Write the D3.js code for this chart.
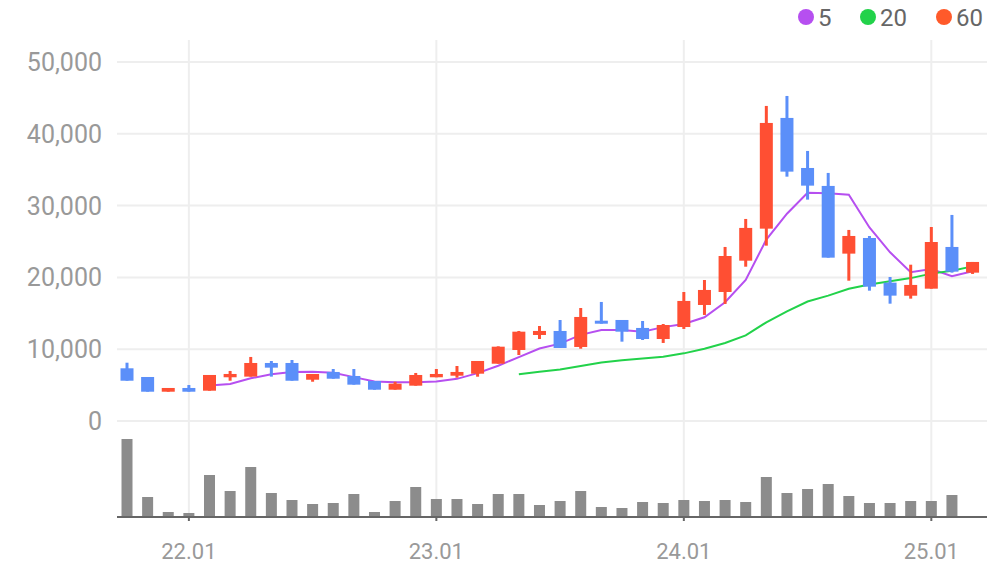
<!DOCTYPE html>
<html><head><meta charset="utf-8">
<script src="https://cdn.jsdelivr.net/npm/d3@7"></script>
<style>body{margin:0;background:#fff}svg{display:block;font-family:Roboto,"Noto Sans",sans-serif}</style>
</head><body><div id="chart"></div>
<script>
// monthly candles, 21.10 .. 25.03
var months = ["21.10","21.11","21.12","22.01","22.02","22.03","22.04","22.05","22.06","22.07","22.08","22.09","22.10","22.11","22.12",
  "23.01","23.02","23.03","23.04","23.05","23.06","23.07","23.08","23.09","23.10","23.11","23.12",
  "24.01","24.02","24.03","24.04","24.05","24.06","24.07","24.08","24.09","24.10","24.11","24.12","25.01","25.02","25.03"];
var opens  = [7340,6130,4080,4600,4220,6090,6180,8080,8080,5750,6830,6270,5570,4360,4920,6090,6310,6590,7980,9890,11980,12540,10310,13970,14070,12960,11420,13090,16160,17970,22330,26790,42210,35240,32740,23310,25490,19270,17450,18430,24240,20660];
var closes = [5610,4080,4600,4080,6410,6550,8080,7430,5610,6550,5890,5060,4360,5200,6410,6550,6830,8360,10350,12440,12540,10170,14490,13650,12440,11420,13370,16720,18250,22980,26890,41510,34730,32780,22750,25770,18710,17460,18950,24930,20800,22150];
var highs  = [8120,6130,4600,5010,6410,6970,8920,8360,8500,6550,7240,7240,5570,5470,6690,7240,7660,8360,10400,12540,13230,14070,15740,16580,14070,13930,13510,17970,19640,24240,28140,43880,45270,37610,34550,26610,25770,20060,21770,27020,28700,22150];
var lows   = [5610,4080,4080,4080,4220,5610,6180,6180,5610,5470,5890,5060,4360,4360,4920,6090,6030,6170,7980,9190,11420,10170,10070,13550,11050,11280,10870,12820,14770,16300,21490,24420,34030,30830,22750,19540,18150,16340,17040,18430,20660,20480];
var volumes = [78,20,5,4,42,26,50,24,17,13,14,23,5,16,30,18,18,13,23,23,12,16,26,10,9,15,14,17,16,17,15,40,24,28,33,21,14,14,16,16,22,1];
var yTicks = [0,10000,20000,30000,40000,50000];
var xTickIdx = [3,15,27,39];
var maPeriods = [5,20,60];
var maColors = ["#b64ff0","#22d24a","#ff5a2a"];

var W = 996, H = 567;
var svg = d3.select("#chart").append("svg").attr("width", W).attr("height", H);

var x = d3.scaleLinear().domain([-0.485, 41.7]).range([117, 987]);
var y = d3.scaleLinear().domain([0, 50000]).range([421, 62]);
var yv = d3.scaleLinear().domain([0, 80]).range([517, 437]);

// grid
svg.append("g").selectAll("line").data(yTicks).join("line")
  .attr("x1", 117).attr("x2", 987).attr("y1", d => y(d)).attr("y2", d => y(d))
  .attr("stroke", "#eeeeee").attr("stroke-width", 2);
svg.append("g").selectAll("line").data(xTickIdx).join("line")
  .attr("x1", d => x(d)).attr("x2", d => x(d)).attr("y1", 40).attr("y2", 517)
  .attr("stroke", "#eeeeee").attr("stroke-width", 2);

// y axis labels
svg.append("g").selectAll("text").data(yTicks).join("text")
  .attr("x", 102).attr("y", d => y(d)).attr("dy", "0.36em").attr("text-anchor", "end")
  .attr("fill", "#999").style("font-size", "25px").text(d3.format(","));

// volume
svg.append("g").selectAll("rect").data(volumes).join("rect")
  .attr("x", (d, i) => x(i) - 5.5).attr("width", 11)
  .attr("y", d => yv(d)).attr("height", d => yv(0) - yv(d)).attr("fill", "#8c8c8c");
svg.append("line").attr("x1", 117).attr("x2", 987).attr("y1", 517).attr("y2", 517)
  .attr("stroke", "#666").attr("stroke-width", 2);
svg.append("g").selectAll("line").data(xTickIdx).join("line")
  .attr("x1", d => x(d)).attr("x2", d => x(d)).attr("y1", 517).attr("y2", 521)
  .attr("stroke", "#666").attr("stroke-width", 2);
svg.append("g").selectAll("text").data(xTickIdx).join("text")
  .attr("x", d => x(d)).attr("y", 551).attr("dy", "0.36em").attr("text-anchor", "middle")
  .attr("fill", "#999").style("font-size", "22px").text(d => months[d]);

// moving averages
maPeriods.forEach(function(p, k) {
  var pts = [];
  for (var i = p - 1; i < closes.length; i++) pts.push([i, d3.mean(closes.slice(i - p + 1, i + 1))]);
  if (!pts.length) return;
  svg.append("path").datum(pts)
    .attr("d", d3.line().x(d => x(d[0])).y(d => y(d[1])))
    .attr("fill", "none").attr("stroke", maColors[k]).attr("stroke-width", 2);
});

// candles
var idx = d3.range(months.length);
var col = i => closes[i] >= opens[i] ? "#ff4f33" : "#5b8ff9";
var cg = svg.append("g");
cg.selectAll("line").data(idx).join("line")
  .attr("x1", i => x(i)).attr("x2", i => x(i))
  .attr("y1", i => y(highs[i])).attr("y2", i => y(lows[i]))
  .attr("stroke", col).attr("stroke-width", 3);
cg.selectAll("rect").data(idx).join("rect")
  .attr("x", i => x(i) - 6.5).attr("width", 13)
  .attr("y", i => y(Math.max(opens[i], closes[i])))
  .attr("height", i => Math.max(3, Math.abs(y(opens[i]) - y(closes[i]))))
  .attr("fill", col);

// legend
var lg = svg.append("g");
var lx = [806, 868, 944];
maPeriods.forEach(function(p, k) {
  lg.append("circle").attr("cx", lx[k]).attr("cy", 17).attr("r", 8).attr("fill", maColors[k]);
  lg.append("text").attr("x", lx[k] + 12).attr("y", 17).attr("dy", "0.36em")
    .attr("fill", "#666").style("font-size", "24px").text(p);
});
</script></body></html>
